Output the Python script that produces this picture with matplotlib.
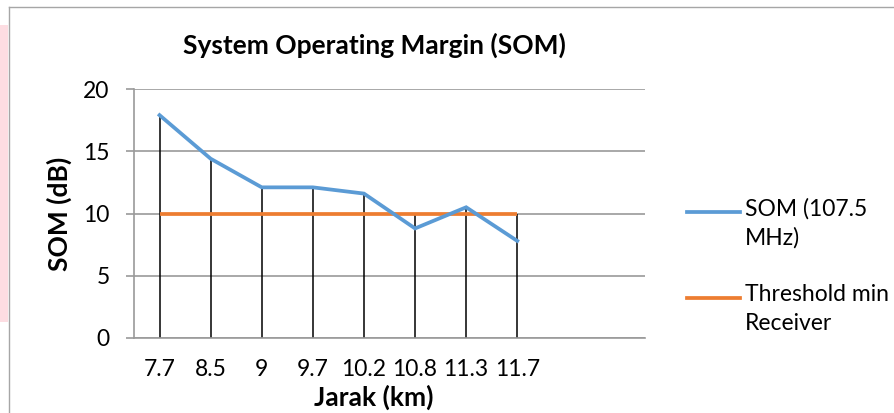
import matplotlib
matplotlib.use("Agg")
import matplotlib.pyplot as plt
from matplotlib.lines import Line2D
from matplotlib.patches import Rectangle
import numpy as np

# data
jarak_labels = ["7.7", "8.5", "9", "9.7", "10.2", "10.8", "11.3", "11.7"]
som_values = [17.9, 14.4, 12.1, 12.1, 11.6, 8.8, 10.5, 7.8]
threshold_values = [10, 10, 10, 10, 10, 10, 10, 10]
y_ticks = [0, 5, 10, 15, 20]

BLUE = "#5B9BD5"
ORANGE = "#ED7D31"
GRID = "#9a9a9a"

plt.rcParams["font.family"] = ["Lato", "DejaVu Sans"]

W, H = 894, 413
fig = plt.figure(figsize=(W / 100, H / 100), dpi=100)


def fx(px):
    return px / W


def fy(py):
    return 1 - py / H


# page background bits: pink margin strip and chart border
fig.add_artist(Rectangle((0, fy(322)), fx(8), fy(25) - fy(322),
                         transform=fig.transFigure, color="#fddde2", lw=0))
fig.add_artist(Line2D([fx(8.5), fx(8.5)], [0, fy(7)], transform=fig.transFigure,
                      color="#a6a6a6", lw=1))
fig.add_artist(Line2D([fx(8.5), 1], [fy(7), fy(7)], transform=fig.transFigure,
                      color="#a6a6a6", lw=1))

ax_left, ax_right, ax_top, ax_bottom = 134, 645, 89, 338
ax = fig.add_axes([fx(ax_left), fy(ax_bottom),
                   fx(ax_right) - fx(ax_left), fy(ax_top) - fy(ax_bottom)])

x = np.arange(len(jarak_labels))
som = np.array(som_values)
thr = np.array(threshold_values)

# Excel style drop lines from the highest series down to the axis
ax.vlines(x, 0, np.maximum(som, thr), color="black", lw=1.1, zorder=2)
ax.plot(x, thr, color=ORANGE, lw=2.7, solid_capstyle="butt", zorder=3)
ax.plot(x, som, color=BLUE, lw=2.7, solid_joinstyle="miter", zorder=4)

ax.set_xlim(-0.5, 9.5)
ax.set_ylim(0, 20)
ax.set_yticks(y_ticks)
ax.set_xticks(x)
ax.set_xticklabels(jarak_labels)
ax.yaxis.grid(True, color=GRID, lw=1.2)
ax.set_axisbelow(True)

for side in ["top", "right"]:
    ax.spines[side].set_visible(False)
ax.spines["left"].set_color(GRID)
ax.spines["bottom"].set_color(GRID)
ax.spines["left"].set_linewidth(1.2)
ax.spines["bottom"].set_linewidth(1.2)
ax.tick_params(axis="y", length=5.5, width=1.2, color=GRID, pad=12, labelsize=16.5)
ax.tick_params(axis="x", length=0, pad=15, labelsize=16.5)

ax_w = ax_right - ax_left
ax_h = ax_bottom - ax_top
ax.set_ylabel("SOM (dB)", fontsize=19, fontweight="bold")
ax.yaxis.set_label_coords((59 - ax_left) / ax_w, 0.5)
ax.yaxis.label.set_va("center")
ax.set_xlabel("Jarak (km)", fontsize=19, fontweight="bold")
ax.xaxis.set_label_coords((374 - ax_left) / ax_w, -(397 - ax_bottom) / ax_h)
ax.xaxis.label.set_va("center")

fig.text(fx(374), fy(45), "System Operating Margin (SOM)", fontsize=19,
         fontweight="bold", ha="center", va="center")

# legend drawn by hand so the sample sits on the first text line
legend_items = [(BLUE, "SOM (107.5\nMHz)", 212), (ORANGE, "Threshold min\nReceiver", 298)]
for color, label, ypx in legend_items:
    fig.add_artist(Line2D([fx(687), fx(740)], [fy(ypx), fy(ypx)],
                          transform=fig.transFigure, color=color, lw=2.7))
    fig.text(fx(745), fy(ypx - 14), label, fontsize=16.5, ha="left", va="top",
             linespacing=1.45)

fig.savefig("out.png", dpi=100)
